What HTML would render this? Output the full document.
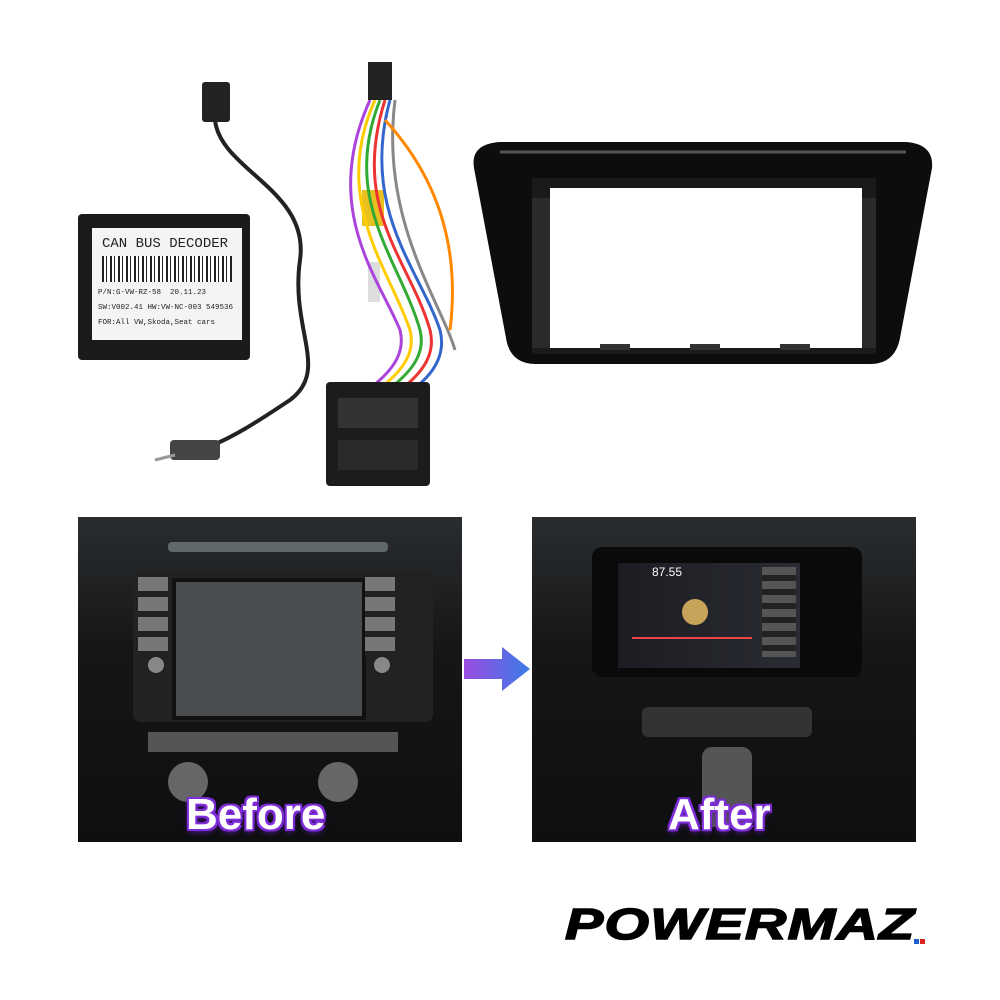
<!DOCTYPE html>
<html><head><meta charset="utf-8"><style>
html,body{margin:0;padding:0;background:#fff;}
body{width:1000px;height:1000px;position:relative;overflow:hidden;font-family:"Liberation Sans",sans-serif;}
.abs{position:absolute;}
.cap{position:absolute;font-family:"Liberation Sans",sans-serif;font-weight:bold;font-size:44px;color:#fff;
 text-shadow:0 0 3px #8a2be2,2px 2px 0 #7b2fd6,-2px -2px 0 #7b2fd6,2px -2px 0 #7b2fd6,-2px 2px 0 #7b2fd6,0 3px 6px #5a1aa0;}
</style></head><body>

<!-- CAN bus decoder -->
<div class="abs" style="left:78px;top:214px;width:172px;height:146px;background:#1a1a1a;border-radius:4px;"></div>
<div class="abs" style="left:92px;top:228px;width:150px;height:112px;background:#f4f4f4;font-family:'Liberation Mono',monospace;color:#222;overflow:hidden;">
 <div style="font-size:14px;margin:8px 0 0 10px;">CAN BUS DECODER</div>
 <div style="margin:4px 10px;height:26px;background:repeating-linear-gradient(90deg,#222 0 2px,#fff 2px 4px,#222 4px 5px,#fff 5px 8px);"></div>
 <div style="font-size:7.5px;margin-left:6px;line-height:15px;white-space:nowrap;">P/N:G-VW-RZ-58 &nbsp;20.11.23<br>SW:V002.41 HW:VW-NC-003 549536<br>FOR:All VW,Skoda,Seat cars</div>
</div>

<!-- cables -->
<svg class="abs" style="left:0;top:0" width="470" height="500">
 <rect x="202" y="82" width="28" height="40" fill="#222" rx="3"/>
 <path d="M215 120 C220 170 310 190 300 260 C290 330 330 370 290 400 C260 420 230 440 200 450" stroke="#222" stroke-width="4" fill="none"/>
 <rect x="170" y="440" width="50" height="20" fill="#444" rx="4"/>
 <line x1="155" y1="460" x2="175" y2="455" stroke="#999" stroke-width="3"/>
 <rect x="368" y="262" width="12" height="40" fill="#ddd"/>
 <rect x="362" y="190" width="22" height="36" fill="#e8c020"/>
 <g fill="none" stroke-width="3">
  <path d="M380 100 C340 200 400 260 420 330 C430 370 380 390 380 400" stroke="#3a3"/>
  <path d="M385 100 C350 210 410 260 430 330 C440 370 395 390 390 400" stroke="#e33"/>
  <path d="M375 100 C330 200 390 270 410 330 C420 370 370 390 370 400" stroke="#fc0"/>
  <path d="M390 100 C360 210 420 270 440 330 C450 370 410 390 400 400" stroke="#36c"/>
  <path d="M370 100 C320 210 380 280 400 330 C410 370 360 390 360 400" stroke="#a4d"/>
  <path d="M395 100 C380 220 440 300 455 350" stroke="#888"/>
  <path d="M385 120 C440 180 460 250 450 330" stroke="#f80"/>
 </g>
 <rect x="368" y="62" width="24" height="38" fill="#222"/>
 <rect x="326" y="382" width="104" height="104" fill="#1c1c1c" rx="4"/>
 <rect x="338" y="398" width="80" height="30" fill="#333"/>
 <rect x="338" y="440" width="80" height="30" fill="#2a2a2a"/>
</svg>

<!-- frame -->
<svg class="abs" style="left:470px;top:138px" width="470" height="232">
 <path d="M4 30 Q0 6 30 4 L436 4 Q464 6 462 30 L430 200 Q425 226 400 226 L66 226 Q40 226 36 200 Z" fill="#0d0d0d"/>
 <path d="M62 40 L406 40 L406 216 L62 216 Z" fill="#1a1a1a"/>
 <rect x="80" y="50" width="312" height="160" fill="#fff"/>
 <rect x="62" y="60" width="18" height="150" fill="#2a2a2a"/>
 <rect x="392" y="60" width="14" height="150" fill="#2a2a2a"/>
 <rect x="130" y="206" width="30" height="6" fill="#333"/>
 <rect x="220" y="206" width="30" height="6" fill="#333"/>
 <rect x="310" y="206" width="30" height="6" fill="#333"/>
 <path d="M30 14 L436 14" stroke="#555" stroke-width="3"/>
</svg>

<!-- Before photo -->
<div class="abs" style="left:78px;top:517px;width:384px;height:325px;background:linear-gradient(180deg,#2a2d30,#151617 40%,#0e0f10);overflow:hidden;">
 <div class="abs" style="left:90px;top:25px;width:220px;height:10px;background:#9aa;opacity:.5;border-radius:4px;"></div>
 <div class="abs" style="left:55px;top:55px;width:300px;height:150px;background:#222;border-radius:8px;"></div>
 <div class="abs" style="left:94px;top:61px;width:186px;height:134px;background:#4a4d50;border:4px solid #111;"></div>
 <div class="abs" style="left:60px;top:60px;width:30px;height:80px;background:repeating-linear-gradient(180deg,#777 0 14px,#222 14px 20px);"></div>
 <div class="abs" style="left:287px;top:60px;width:30px;height:80px;background:repeating-linear-gradient(180deg,#777 0 14px,#222 14px 20px);"></div>
 <div class="abs" style="left:70px;top:140px;width:16px;height:16px;border-radius:50%;background:#888;"></div>
 <div class="abs" style="left:296px;top:140px;width:16px;height:16px;border-radius:50%;background:#888;"></div>
 <div class="abs" style="left:70px;top:215px;width:250px;height:20px;background:#555;"></div>
 <div class="abs" style="left:90px;top:245px;width:40px;height:40px;border-radius:50%;background:#666;"></div>
 <div class="abs" style="left:240px;top:245px;width:40px;height:40px;border-radius:50%;background:#666;"></div>
</div>
<div class="cap" style="left:186px;top:790px;">Before</div>

<!-- arrow -->
<svg class="abs" style="left:462px;top:645px" width="72" height="48">
 <defs><linearGradient id="g" x1="0" x2="1"><stop offset="0" stop-color="#9b4de0"/><stop offset="1" stop-color="#3a7be8"/></linearGradient></defs>
 <path d="M2 14 L40 14 L40 2 L68 24 L40 46 L40 34 L2 34 Z" fill="url(#g)"/>
</svg>

<!-- After photo -->
<div class="abs" style="left:532px;top:517px;width:384px;height:325px;background:linear-gradient(180deg,#2a2d30,#151617 40%,#0e0f10);overflow:hidden;">
 <div class="abs" style="left:60px;top:30px;width:270px;height:130px;background:#0a0a0a;border-radius:10px;"></div>
 <div class="abs" style="left:86px;top:46px;width:182px;height:105px;background:linear-gradient(90deg,#1b1d22,#2a2c33);"></div>
 <div class="abs" style="left:120px;top:48px;color:#fff;font-size:12px;">87.55</div>
 <div class="abs" style="left:150px;top:82px;width:26px;height:26px;border-radius:50%;background:#c8a45a;"></div>
 <div class="abs" style="left:230px;top:50px;width:34px;height:90px;background:repeating-linear-gradient(180deg,#555 0 8px,#222 8px 14px);"></div>
 <div class="abs" style="left:100px;top:120px;width:120px;height:2px;background:#e44;"></div>
 <div class="abs" style="left:110px;top:190px;width:170px;height:30px;background:#333;border-radius:6px;"></div>
 <div class="abs" style="left:170px;top:230px;width:50px;height:80px;background:#555;border-radius:10px;"></div>
</div>
<div class="cap" style="left:668px;top:790px;">After</div>

<!-- logo -->
<div class="abs" style="left:565px;top:900px;font-family:'Liberation Sans',sans-serif;font-weight:900;font-style:italic;font-size:44px;letter-spacing:1px;color:#000;transform:scaleX(1.3);transform-origin:left;-webkit-text-stroke:1.5px #000;">POWERMAZ</div>
<div class="abs" style="left:914px;top:939px;width:5px;height:5px;background:#1e5fd0;"></div>
<div class="abs" style="left:920px;top:939px;width:5px;height:5px;background:#d22;"></div>
</body></html>
